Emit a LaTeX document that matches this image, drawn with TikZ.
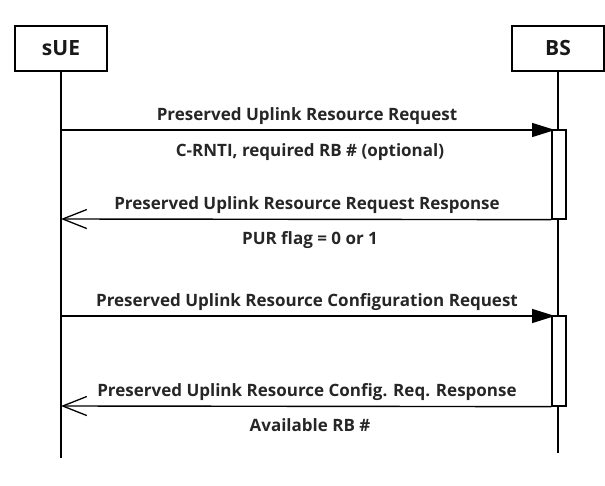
\documentclass[tikz,border=0pt]{standalone}
\usepackage{fontspec}
\setmainfont{Open Sans}
\usetikzlibrary{arrows.meta}
\begin{document}
\begin{tikzpicture}[x=1pt,y=-1pt,
  actor/.style={draw,line width=1.4pt,minimum width=92pt,minimum height=45pt,inner sep=0pt},
  actortext/.style={anchor=base,inner sep=0pt,font=\fontsize{21}{21}\selectfont\bfseries,text=black!90},
  actbox/.style={draw,line width=1.3pt,fill=white,minimum width=14pt,inner sep=0pt},
  life/.style={line width=1.3pt},
  req/.style={line width=1.4pt,-{Triangle[length=23pt,width=14pt]}},
  resp/.style={line width=1.4pt,-{Straight Barb[length=24pt,width=19pt,line width=1.3pt]}},
  lbl/.style={anchor=base,inner sep=0pt,font=\fontsize{17}{17}\selectfont\bfseries,text=black!85}]
\useasboundingbox (0,0) rectangle (605,486);
\node[actor] (ue) at (61,48.5) {};
\node[actor] (bs) at (558,48.5) {};
\node[actortext] (uet) at (61,56) {sUE};
\node[actortext] (bst) at (558,56) {BS};
\coordinate (ueend) at (61,458);
\coordinate (bsend) at (558,453);
\draw[life] (ue.south) -- (ueend);
\draw[life] (bs.south) -- (bsend);
% activation boxes
\node[actbox,minimum height=89pt] (act1) at (559,174.5) {};
\node[actbox,minimum height=90pt] (act2) at (559,361) {};
% message 1
\coordinate (m1s) at (61,130);
\coordinate (m1e) at (555,130);
\draw[req] (m1s) -- (m1e);
\node[lbl] (l1) at (307,120.7) {Preserved Uplink Resource Request};
\node[lbl] (l1b) at (310,156.7) {C-RNTI, required RB \# (optional)};
% message 2
\coordinate (m2e) at (61,219);
\draw[resp] (act1.south west) -- (m2e);
\node[lbl] (l2) at (307,209.3) {Preserved Uplink Resource Request Response};
\node[lbl] (l2b) at (310,245) {PUR flag = 0 or 1};
% message 3
\coordinate (m3s) at (61,316);
\coordinate (m3e) at (555,316);
\draw[req] (m3s) -- (m3e);
\node[lbl] (l3) at (307,306.7) {Preserved Uplink Resource Configuration Request};
% message 4
\coordinate (m4e) at (61,406);
\draw[resp] (act2.south west) -- (m4e);
\node[lbl] (l4) at (307,396.7) {Preserved Uplink Resource Config. Req. Response};
\node[lbl] (l4b) at (310,431) {Available RB \#};
\end{tikzpicture}
\end{document}
